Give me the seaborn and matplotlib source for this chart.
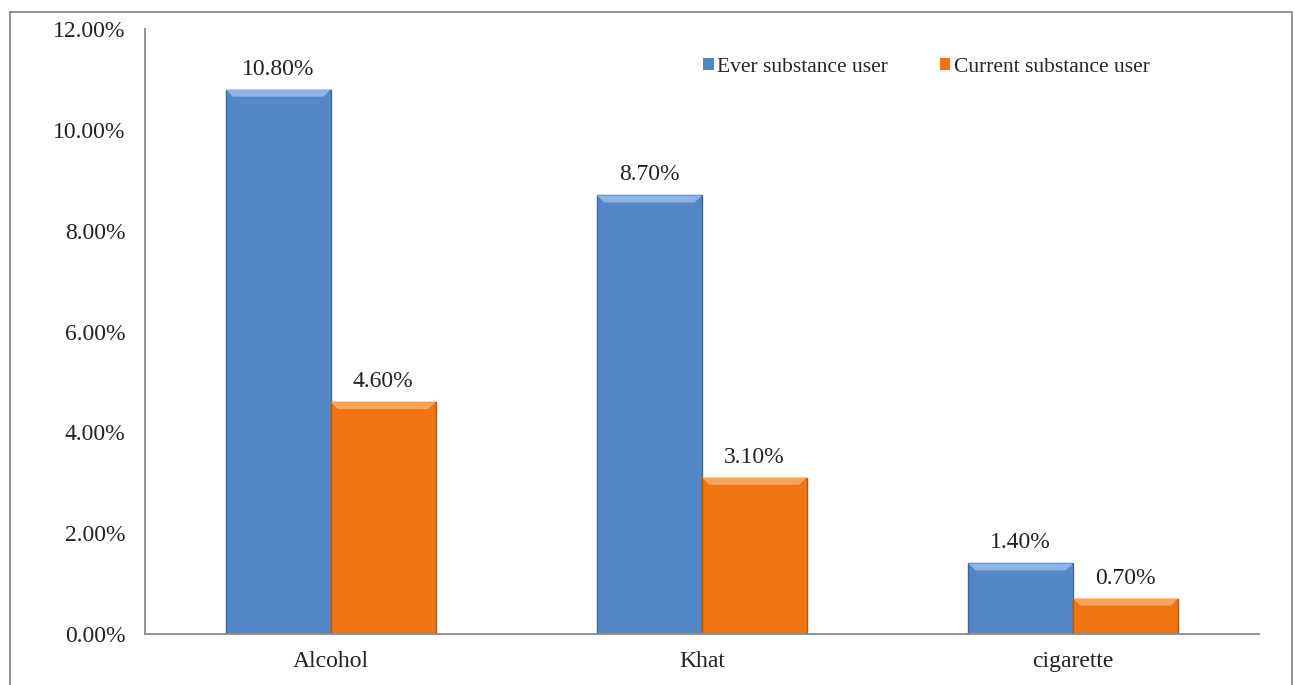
import matplotlib
matplotlib.use("Agg")
import matplotlib.pyplot as plt
import pandas as pd
import seaborn as sns
from matplotlib.patches import Polygon, Rectangle

substances = ["Alcohol", "Khat", "cigarette"]
ever_user = [10.8, 8.7, 1.4]
current_user = [4.6, 3.1, 0.7]
series_names = ["Ever substance user", "Current substance user"]
colors = ["#5487C7", "#F07412"]
edge_colors = ["#3C6798", "#B8560A"]
light_colors = ["#8FB4E3", "#F7A45E"]

df = pd.DataFrame({
    "substance": substances * 2,
    "value": ever_user + current_user,
    "group": [series_names[0]] * 3 + [series_names[1]] * 3,
})

sns.set_style("white")
plt.rcParams["font.family"] = ["Liberation Serif", "DejaVu Serif"]

fig = plt.figure(figsize=(12.95, 6.85), dpi=100)
ax = fig.add_axes([0.112, 0.0745, 0.86, 0.883])

sns.barplot(
    data=df, x="substance", y="value", hue="group",
    palette=colors, width=0.565, gap=0, saturation=1,
    edgecolor="none", ax=ax,
)

ax.set_ylim(0, 12)
ax.set_xlim(-0.5, 2.5)
ax.set_yticks(range(0, 13, 2))
ax.set_yticklabels([f"{v:.2f}%" for v in range(0, 13, 2)])
ax.set_xlabel("")
ax.set_ylabel("")
ax.tick_params(axis="both", length=0, labelsize=17, colors="#222222")
ax.tick_params(axis="y", pad=14)
ax.tick_params(axis="x", pad=12)

for side in ["top", "right"]:
    ax.spines[side].set_visible(False)
for side in ["left", "bottom"]:
    ax.spines[side].set_color("#8a8a8a")
    ax.spines[side].set_linewidth(1.3)

# bevel look and value labels
for i, cont in enumerate(ax.containers):
    for bar, val in zip(cont, [ever_user, current_user][i]):
        x0 = bar.get_x()
        w = bar.get_width()
        h = bar.get_height()
        bar.set_edgecolor(edge_colors[i])
        bar.set_linewidth(1.0)
        dx = w * 0.07
        dy = 0.14
        ax.add_patch(Polygon(
            [(x0, h), (x0 + w, h), (x0 + w - dx, h - dy), (x0 + dx, h - dy)],
            closed=True, facecolor=light_colors[i], edgecolor="none", zorder=3,
        ))
        ax.text(x0 + w / 2, h + 0.2, f"{val:.2f}%", ha="center", va="bottom",
                fontsize=17, color="#222222")

ax.legend(
    loc="center left", bbox_to_anchor=(0.501, 0.937), ncol=2, frameon=False,
    fontsize=15.5, handlelength=0.5, handleheight=0.5, handletextpad=0.15,
    columnspacing=2.4, borderpad=0, borderaxespad=0,
)

fig.patches.append(Rectangle(
    (10 / 1295, -0.01), 1282 / 1295, 1 - 12 / 685 + 0.01,
    transform=fig.transFigure, fill=False, edgecolor="#8a8a8a", linewidth=1.3,
))

fig.savefig("out.png", dpi=100)
